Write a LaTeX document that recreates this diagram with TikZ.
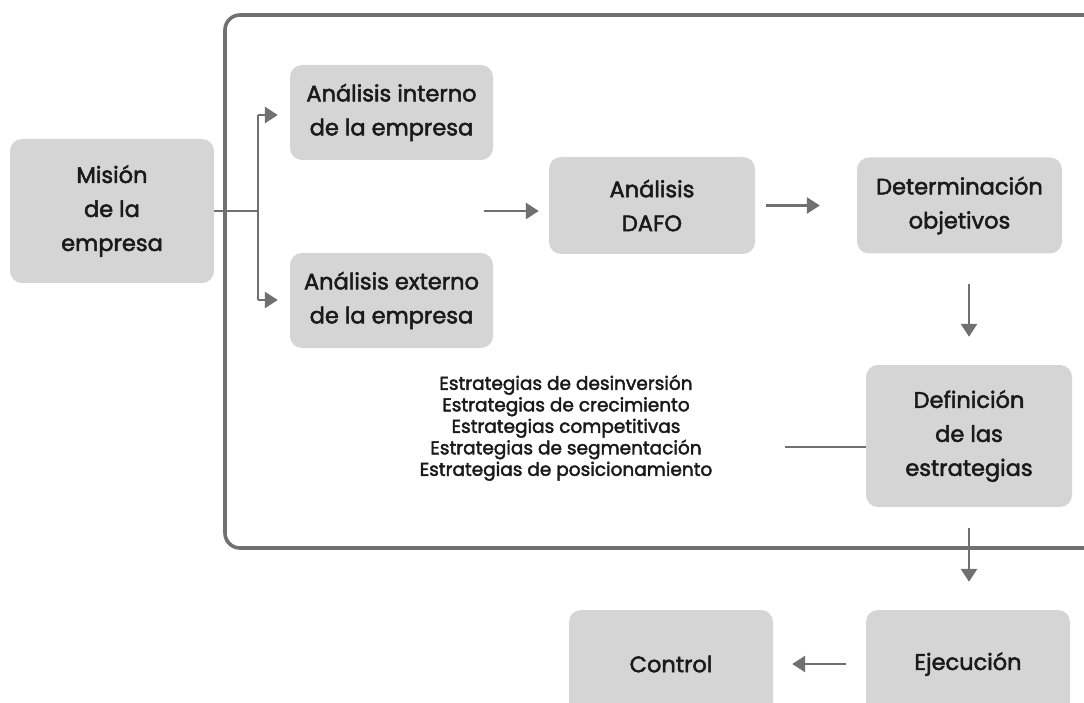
\documentclass[tikz,border=0pt]{standalone}
\usepackage{fontspec}
\setmainfont{Poppins}[FakeBold=2.2]
\usetikzlibrary{arrows.meta}
\definecolor{boxfill}{HTML}{D5D5D5}
\definecolor{linegray}{HTML}{707070}
\definecolor{txt}{HTML}{1A1A1A}
\begin{document}
\begin{tikzpicture}[x=1pt,y=-1pt,
  box/.style={fill=boxfill, rounded corners=12pt, inner sep=0pt, text=txt,
    align=center, font=\fontsize{22.5}{34}\selectfont},
  arr/.style={draw=linegray, line width=2.8pt, -{Triangle[length=13pt,width=16pt]}},
  conn/.style={draw=linegray, line width=2.8pt},
  frame/.style={draw=linegray, line width=3.6pt, rounded corners=15pt}]
\useasboundingbox (0,0) rectangle (1084,703);
% frame
\draw[frame] (225,15) rectangle (1110,548);
% boxes
\node[box, minimum width=204pt, minimum height=144pt] (mision) at (112,211) {Misión\\de la\\empresa};
\node[box, minimum width=203pt, minimum height=95pt] (interno) at (391.5,112.5) {Análisis interno\\de la empresa};
\node[box, minimum width=203pt, minimum height=95pt] (externo) at (391.5,300.5) {Análisis externo\\de la empresa};
\node[box, minimum width=206pt, minimum height=97pt] (dafo) at (652,205.5) {Análisis\\DAFO};
\node[box, minimum width=205pt, minimum height=96pt] (det) at (959.5,205.5) {Determinación\\objetivos};
\node[box, minimum width=206pt, minimum height=142pt] (def) at (969,436) {Definición\\de las\\estrategias};
\node[box, minimum width=204pt, minimum height=108pt] (ejec) at (968,664) {Ejecución};
\node[box, minimum width=204pt, minimum height=108pt] (control) at (671,664) {Control};
% strategies list
\node[text=txt, align=center, inner sep=0pt, font=\fontsize{18.5}{21.5}\selectfont] (lista) at (566,428)
  {Estrategias de desinversión\\Estrategias de crecimiento\\Estrategias competitivas\\Estrategias de segmentación\\Estrategias de posicionamiento};
% connector coordinates
\coordinate (fork) at (258,211);
\coordinate (forkTop) at (258,115);
\coordinate (forkBot) at (258,300);
\coordinate (inDafo) at (484,211);
\coordinate (defLeft) at (785,447);
% connectors
\draw[conn] (mision.east |- fork) -- (fork);
\draw[conn] (forkTop) -- (forkBot);
\draw[arr] (forkTop) -- ([xshift=-12pt]interno.west |- forkTop);
\draw[arr] (forkBot) -- ([xshift=-12pt]externo.west |- forkBot);
\draw[arr] (inDafo) -- ([xshift=-10pt]dafo.west |- inDafo);
\draw[arr] ([xshift=11pt]dafo.east) -- ([xshift=-37pt]det.west);
\draw[arr] ([yshift=-30pt]det.south -| def.north) -- ([yshift=28pt]def.north);
\draw[conn] (defLeft) -- (def.west |- defLeft);
\draw[arr] ([yshift=-21pt]def.south) -- ([yshift=28pt]ejec.north -| def.south);
\draw[arr] ([xshift=-20pt]ejec.west) -- ([xshift=19pt]control.east);
\end{tikzpicture}
\end{document}
